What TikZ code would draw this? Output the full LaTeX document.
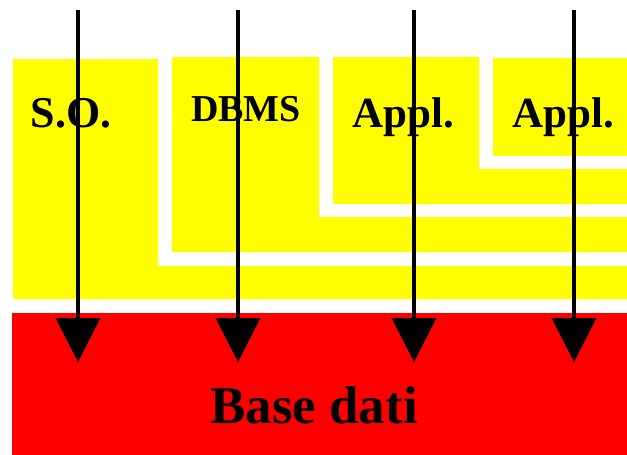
\documentclass[tikz,border=0pt]{standalone}
\usepackage{fontspec}
\setmainfont{Liberation Serif}
\usetikzlibrary{arrows.meta}
\definecolor{layer}{RGB}{255,255,0}
\definecolor{dbred}{RGB}{255,0,0}
\tikzset{
  layerfill/.style={fill=layer, draw=none},
  lbl/.style={anchor=base, inner sep=0pt, font=\bfseries\fontsize{#1}{#1}\selectfont},
  access/.style={line width=4pt, -{Triangle[width=44pt,length=44pt]}},
}
\begin{document}
\begin{tikzpicture}[x=1pt, y=-1pt]
\useasboundingbox (0,0) rectangle (627,455);

% nested software layers
\fill[layerfill] (13,59) -- (158,59) -- (158,266) -- (627,266) -- (627,299) -- (13,299) -- cycle;
\fill[layerfill] (172,57) -- (319,57) -- (319,217) -- (627,217) -- (627,252) -- (172,252) -- cycle;
\fill[layerfill] (333,57) -- (479,57) -- (479,169) -- (627,169) -- (627,204) -- (333,204) -- cycle;
\fill[layerfill] (493,58) rectangle (627,156);

% database
\fill[dbred] (12,313) rectangle (627,455);
\node[lbl=53] (db) at (314,423) {Base dati};

% layer labels
\node[lbl=44] (so)    at (71,127)  {S.O.};
\node[lbl=38] (dbms)  at (246,121) {DBMS};
\node[lbl=43] (app1)  at (403,127) {Appl.};
\node[lbl=43] (app2)  at (563,127) {Appl.};

% access paths down to the database
\foreach \i/\x in {1/78, 2/238, 3/414, 4/574} {
  \coordinate (top\i) at (\x,10);
  \coordinate (tip\i) at (\x,362);
  \draw[access] (top\i) -- (tip\i);
}
\end{tikzpicture}
\end{document}
